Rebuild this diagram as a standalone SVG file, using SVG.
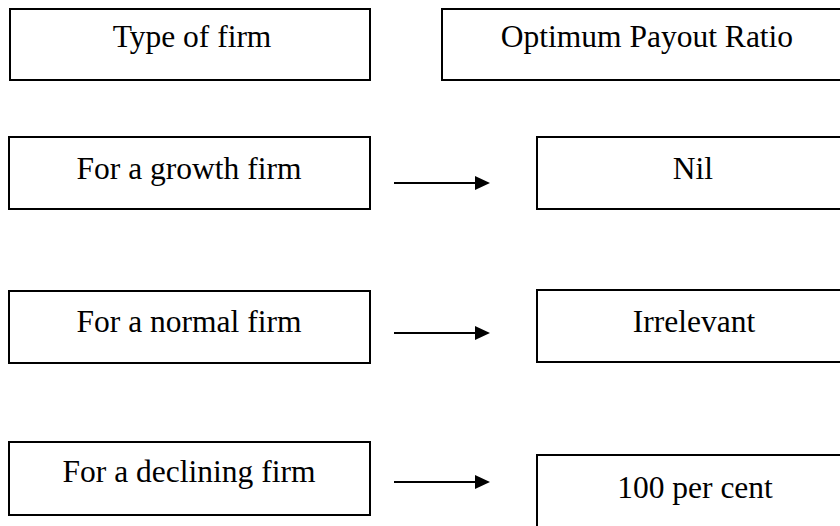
<svg xmlns="http://www.w3.org/2000/svg" width="840" height="526" viewBox="0 0 840 526">
<style>
.box{fill:#fff;stroke:#000;stroke-width:2}
.t{font-family:"Liberation Serif","Times New Roman",serif;font-size:31.5px;fill:#000;text-anchor:middle}
.con line{stroke:#000;stroke-width:1.8}
.con polygon{fill:#000}
</style>
<rect width="840" height="526" fill="#fff"/>
<g id="type-of-firm"><rect class="box" x="10" y="9" width="360" height="71"/><text class="t" x="192" y="47">Type of firm</text></g>
<g id="optimum-payout"><rect class="box" x="442" y="9" width="420" height="71"/><text class="t" x="647" y="47">Optimum Payout Ratio</text></g>
<g id="growth"><rect class="box" x="9" y="137" width="361" height="72"/><text class="t" x="189" y="179">For a growth firm</text></g>
<g id="nil"><rect class="box" x="537" y="137" width="320" height="72"/><text class="t" x="693" y="179">Nil</text></g>
<g id="normal"><rect class="box" x="9" y="291" width="361" height="72"/><text class="t" x="189" y="332">For a normal firm</text></g>
<g id="irrelevant"><rect class="box" x="537" y="290" width="320" height="72"/><text class="t" x="694" y="332">Irrelevant</text></g>
<g id="declining"><rect class="box" x="9" y="442" width="361" height="73"/><text class="t" x="189" y="482">For a declining firm</text></g>
<g id="hundred"><rect class="box" x="537" y="455" width="320" height="90"/><text class="t" x="695" y="498">100 per cent</text></g>
<g id="connectors" class="con">
<line x1="394" y1="183" x2="477" y2="183"/><polygon points="475,176 490,183 475,190"/>
<line x1="394" y1="333" x2="477" y2="333"/><polygon points="475,326 490,333 475,340"/>
<line x1="394" y1="482" x2="477" y2="482"/><polygon points="475,475 490,482 475,489"/>
</g>
</svg>
